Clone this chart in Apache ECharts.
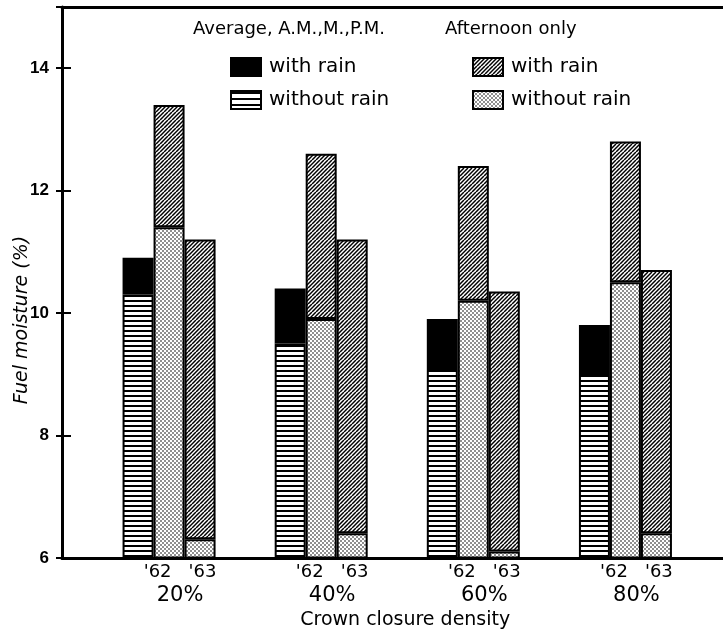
<!DOCTYPE html>
<html>
<head>
<meta charset="utf-8">
<script src="https://cdn.jsdelivr.net/npm/echarts@6/dist/echarts.min.js"></script>
<style>
  html, body { margin: 0; padding: 0; background: #fff; }
  #chart { width: 723px; height: 635px; }
</style>
</head>
<body>
<div id="chart"></div>
<script>
// Crown closure density classes and the two measurement years
const densities = ['20%', '40%', '60%', '80%'];
const yearLabels = ["'62", "'63"];
// Fuel moisture axis ticks (%)
const yTicks = [6, 8, 10, 12, 14];
const yTop = 15;

// Average of A.M., M. and P.M. readings, 1962
const avgWithRain = [10.9, 10.4, 9.9, 9.8];
const avgWithoutRain = [10.3, 9.5, 9.1, 9.0];
// Afternoon readings, 1962
const pm62WithRain = [13.4, 12.6, 12.4, 12.8];
const pm62WithoutRain = [11.4, 9.9, 10.2, 10.5];
// Afternoon readings, 1963
const pm63WithRain = [11.2, 11.2, 10.35, 10.7];
const pm63WithoutRain = [6.3, 6.4, 6.1, 6.4];

const legendText = {
  avgRain: 'with rain', avgDry: 'without rain',
  pmRain: 'with rain', pmDry: 'without rain'
};

const FONT = 'DejaVu Sans';

// Fill patterns drawn on small tiles
function tile(w, h, draw) {
  const c = document.createElement('canvas');
  c.width = w; c.height = h;
  const g = c.getContext('2d');
  g.fillStyle = '#fff'; g.fillRect(0, 0, w, h);
  g.fillStyle = '#000'; g.strokeStyle = '#000';
  draw(g);
  return { image: c, repeat: 'repeat' };
}
const stripes = tile(4, 5, g => g.fillRect(0, 0, 4, 2));
const stripesLegend = tile(4, 6, g => g.fillRect(0, 1, 4, 2));
const hatch = tile(8, 8, g => {
  g.lineWidth = 1.5;
  for (let k = -8; k <= 16; k += 4) {
    g.beginPath(); g.moveTo(k, 8); g.lineTo(k + 8, 0); g.stroke();
  }
});
const dots = tile(4, 4, g => {
  [[1, 1], [3, 3]].forEach(([x, y]) => {
    g.beginPath(); g.arc(x, y, 0.8, 0, Math.PI * 2); g.fill();
  });
});

const diff = (tot, base) => tot.map((t, i) => Math.round((t - base[i]) * 100) / 100);

function barSeries(name, stack, data, color) {
  return {
    name, type: 'bar', stack, data,
    xAxisIndex: 2, yAxisIndex: 2,
    barWidth: 31, barGap: '0%',
    itemStyle: { color, borderColor: '#000', borderWidth: 2 },
    emphasis: { disabled: true }
  };
}

const legendBase = {
  orient: 'vertical', top: 52, itemWidth: 30, itemHeight: 18, itemGap: 13,
  selectedMode: false, icon: 'rect',
  formatter: n => legendText[n],
  itemStyle: { borderColor: '#000', borderWidth: 2 },
  textStyle: { fontFamily: FONT, fontSize: 20, color: '#000', lineHeight: 18, padding: [0, 0, 0, 3] }
};

const hiddenValueAxis = (gridIndex, position) => ({
  gridIndex, type: 'value', min: 0, max: 1, position,
  axisLine: { show: true, onZero: false, lineStyle: { color: '#000', width: 3 } },
  axisTick: { show: false }, axisLabel: { show: false }, splitLine: { show: false }
});

const headerStyle = { fontFamily: FONT, fontSize: 18, fontWeight: 'normal', color: '#000' };

const chart = echarts.init(document.getElementById('chart'), null, { renderer: 'canvas' });
chart.setOption({
  animation: false,
  backgroundColor: '#fff',
  title: [
    { text: 'Average, A.M.,M.,P.M.', left: 193, top: 20, padding: 0, textStyle: headerStyle },
    { text: 'Afternoon only', left: 445, top: 20, padding: 0, textStyle: headerStyle }
  ],
  legend: [
    Object.assign({}, legendBase, { left: 225, data: [{ name: 'avgRain' }, { name: 'avgDry', itemStyle: { color: stripesLegend } }] }),
    Object.assign({}, legendBase, { left: 467, data: [{ name: 'pmRain' }, { name: 'pmDry' }] })
  ],
  grid: [
    { left: 62, right: 0, top: 7, bottom: 77 },
    { left: 93, right: 21.5, top: 7, bottom: 77 }
  ],
  xAxis: [
    hiddenValueAxis(0, 'bottom'),
    hiddenValueAxis(0, 'top'),
    {
      gridIndex: 1, type: 'category', data: densities,
      axisLine: { show: false }, axisTick: { show: false }, splitLine: { show: false },
      axisLabel: {
        interval: 0, margin: 5, padding: [0, 0, 0, 22],
        formatter: v => `{yr|${yearLabels[0]}}{gap| }{yr|${yearLabels[1]}}\n{pc|${v}}`,
        rich: {
          yr: { fontFamily: FONT, fontSize: 18, lineHeight: 20, color: '#000' },
          gap: { width: 17 },
          pc: { fontFamily: FONT, fontSize: 21, lineHeight: 26, color: '#000' }
        }
      },
      name: 'Crown closure density', nameLocation: 'middle', nameGap: 53,
      nameTextStyle: { fontFamily: FONT, fontSize: 19, color: '#000', padding: [0, 0, 0, 16] }
    }
  ],
  yAxis: [
    {
      gridIndex: 0, type: 'value', position: 'left',
      min: yTicks[0], max: yTop, interval: yTicks[1] - yTicks[0],
      axisLine: { show: true, onZero: false, lineStyle: { color: '#000', width: 3 } },
      axisTick: { show: true, inside: true, length: 9, lineStyle: { color: '#000', width: 2 } },
      axisLabel: { margin: 13, fontFamily: 'Liberation Sans', fontSize: 17, fontWeight: 'bold',
                   color: '#000', showMaxLabel: false },
      splitLine: { show: false }
    },
    {
      gridIndex: 0, type: 'value', position: 'right',
      min: yTicks[0], max: yTop, interval: yTicks[1] - yTicks[0],
      axisLine: { show: false },
      axisTick: { show: true, inside: true, length: 6, lineStyle: { color: '#000', width: 2 } },
      axisLabel: { show: false }, splitLine: { show: false }
    },
    { gridIndex: 1, type: 'value', min: yTicks[0], max: yTop, show: false }
  ],
  graphic: [
    { type: 'text', x: 22, y: 320, rotation: Math.PI / 2,
      style: { text: 'Fuel moisture (%)', font: 'italic 19px "DejaVu Sans"', fill: '#000',
               align: 'center', verticalAlign: 'middle' } }
  ],
  series: [
    barSeries('avgDry', 'avg', avgWithoutRain, stripes),
    barSeries('avgRain', 'avg', diff(avgWithRain, avgWithoutRain), '#000'),
    barSeries('pmDry', 'pm62', pm62WithoutRain, dots),
    barSeries('pmRain', 'pm62', diff(pm62WithRain, pm62WithoutRain), hatch),
    barSeries('pmDry', 'pm63', pm63WithoutRain, dots),
    barSeries('pmRain', 'pm63', diff(pm63WithRain, pm63WithoutRain), hatch)
  ]
});
</script>
</body>
</html>
